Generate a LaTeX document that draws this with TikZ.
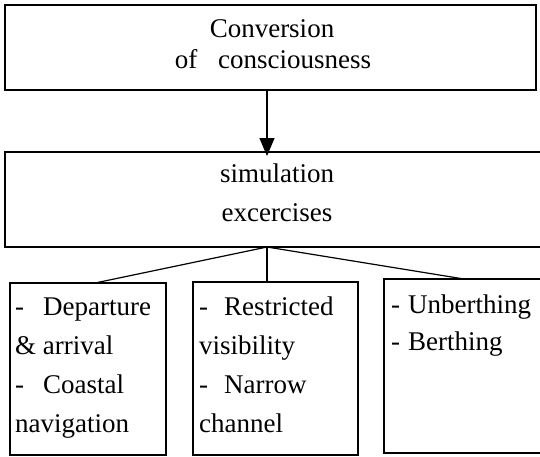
\documentclass[tikz,border=0pt]{standalone}
\usepackage{fontspec}
\setmainfont{Liberation Serif}
\usetikzlibrary{arrows.meta}
\begin{document}
\begin{tikzpicture}[x=1pt,y=-1pt,
  box/.style={draw,line width=1.2pt,inner sep=0,outer sep=0,anchor=north west},
  txt/.style={inner sep=0,anchor=base west,font=\fontsize{27}{31}\selectfont},
  ctxt/.style={inner sep=0,anchor=base,font=\fontsize{27}{31}\selectfont},
  conn/.style={line width=1.2pt}]
\useasboundingbox (0,0) rectangle (540,456);
% boxes
\node[box,minimum width=531pt,minimum height=85pt] (top) at (5,5) {};
\node[box,minimum width=545pt,minimum height=95pt] (sim) at (5,152) {};
\node[box,minimum width=156pt,minimum height=172pt] (b1) at (10,283) {};
\node[box,minimum width=165pt,minimum height=173pt] (b2) at (193,282) {};
\node[box,minimum width=170pt,minimum height=174pt] (b3) at (384,279) {};
% connectors
\coordinate (br) at (267,247);
\draw[conn,-{Triangle[length=18pt,width=15pt]}] (top.south -| br) -- ([yshift=-4pt]sim.north -| br);
\draw[conn] (br) -- ([xshift=85pt]b1.north west);
\draw[conn] (br) -- (b2.north -| br);
\draw[conn] (br) -- ([xshift=80pt]b3.north west);
% texts
\node[ctxt] (t1) at (272,37) {Conversion};
\node[ctxt] (t2) at (273,68) {of\hspace{21pt}consciousness};
\node[ctxt] (s1) at (277,182) {simulation};
\node[ctxt] (s2) at (277,221) {excercises};
\node[txt] (a1) at (15,315) {\makebox[28pt][l]{-}Departure};
\node[txt] (a2) at (15,354) {\& arrival};
\node[txt] (a3) at (15,393) {\makebox[28pt][l]{-}Coastal};
\node[txt] (a4) at (15,432) {navigation};
\node[txt] (c1) at (199,315) {\makebox[25pt][l]{-}Restricted};
\node[txt] (c2) at (199,354) {visibility};
\node[txt] (c3) at (199,393) {\makebox[25pt][l]{-}Narrow};
\node[txt] (c4) at (199,432) {channel};
\node[txt] (d1) at (391,313) {\makebox[17pt][l]{-}Unberthing};
\node[txt] (d2) at (391,350) {\makebox[17pt][l]{-}Berthing};
\end{tikzpicture}
\end{document}
